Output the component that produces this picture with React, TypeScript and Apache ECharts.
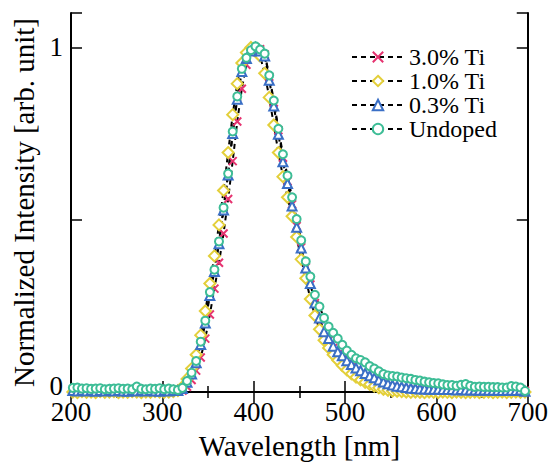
import React, { useEffect, useRef } from "react";
import * as echarts from "echarts";

// Wavelength grid [nm]
const wavelengths = [
  202, 207, 212, 217, 222, 227, 232, 237, 242, 247,
  252, 257, 262, 267, 272, 277, 282, 287, 292, 297,
  302, 307, 312, 317, 322, 327, 332, 337, 342, 347,
  352, 357, 362, 367, 372, 377, 382, 387, 392, 397,
  402, 407, 412, 417, 422, 427, 432, 437, 442, 447,
  452, 457, 462, 467, 472, 477, 482, 487, 492, 497,
  502, 507, 512, 517, 522, 527, 532, 537, 542, 547,
  552, 557, 562, 567, 572, 577, 582, 587, 592, 597,
  602, 607, 612, 617, 622, 627, 632, 637, 642, 647,
  652, 657, 662, 667, 672, 677, 682, 687, 692, 697,
];

const ti30 = [
  0.002, 0.001, 0.003, 0.002, 0.001, 0.002, 0.003, 0.001, 0.002, 0.002,
  0.001, 0.003, 0.002, 0.001, 0.002, 0.002, 0.001, 0.002, 0.003, 0.001,
  0.002, 0.001, 0.002, 0.002, 0.004, 0.015, 0.035, 0.062, 0.100, 0.155,
  0.225, 0.300, 0.375, 0.460, 0.560, 0.670, 0.785, 0.880, 0.950, 0.985,
  1.000, 0.995, 0.980, 0.915, 0.840, 0.760, 0.680, 0.612, 0.545, 0.482,
  0.420, 0.362, 0.312, 0.258, 0.212, 0.172, 0.150, 0.128, 0.110, 0.096,
  0.082, 0.071, 0.061, 0.052, 0.044, 0.037, 0.031, 0.026, 0.021, 0.017,
  0.014, 0.011, 0.009, 0.008, 0.007, 0.006, 0.005, 0.005, 0.004, 0.004,
  0.004, 0.003, 0.004, 0.003, 0.003, 0.002, 0.003, 0.003, 0.002, 0.003,
  0.002, 0.003, 0.002, 0.002, 0.003, 0.002, 0.002, 0.003, 0.002, 0.004,
];

const ti10 = [
  0.000, -0.002, 0.001, -0.001, 0.000, -0.002, 0.001, -0.001, 0.000, 0.001,
  -0.002, 0.000, -0.001, 0.001, 0.000, -0.002, 0.000, -0.001, 0.001, 0.000,
  -0.001, 0.000, 0.001, 0.004, 0.015, 0.038, 0.068, 0.108, 0.165, 0.235,
  0.315, 0.395, 0.485, 0.585, 0.695, 0.805, 0.895, 0.955, 0.985, 1.000,
  0.995, 0.975, 0.925, 0.855, 0.775, 0.695, 0.625, 0.565, 0.510, 0.450,
  0.385, 0.330, 0.270, 0.222, 0.182, 0.150, 0.128, 0.108, 0.092, 0.077,
  0.064, 0.053, 0.043, 0.035, 0.028, 0.022, 0.017, 0.012, 0.008, 0.005,
  0.003, 0.002, 0.001, 0.000, -0.001, 0.000, -0.001, -0.002, 0.000, -0.001,
  -0.002, 0.000, -0.001, -0.002, 0.000, -0.001, -0.002, -0.001, 0.000, -0.002,
  -0.001, 0.000, -0.002, -0.001, 0.000, -0.002, -0.001, 0.000, -0.001, 0.000,
];

const ti03 = [
  0.004, 0.003, 0.005, 0.003, 0.004, 0.002, 0.004, 0.003, 0.005, 0.003,
  0.004, 0.003, 0.002, 0.004, 0.003, 0.005, 0.003, 0.004, 0.003, 0.002,
  0.004, 0.003, 0.004, 0.004, 0.010, 0.028, 0.052, 0.085, 0.138, 0.200,
  0.280, 0.350, 0.430, 0.528, 0.630, 0.750, 0.850, 0.930, 0.968, 0.990,
  1.000, 0.990, 0.975, 0.905, 0.830, 0.748, 0.668, 0.605, 0.540, 0.478,
  0.418, 0.360, 0.315, 0.258, 0.215, 0.175, 0.155, 0.133, 0.117, 0.105,
  0.091, 0.080, 0.070, 0.062, 0.054, 0.047, 0.041, 0.035, 0.029, 0.024,
  0.020, 0.017, 0.015, 0.013, 0.011, 0.010, 0.009, 0.009, 0.008, 0.008,
  0.008, 0.007, 0.007, 0.007, 0.006, 0.007, 0.006, 0.006, 0.006, 0.005,
  0.006, 0.005, 0.005, 0.005, 0.004, 0.005, 0.005, 0.004, 0.006, 0.002,
];

const undoped = [
  0.012, 0.013, 0.010, 0.011, 0.009, 0.010, 0.011, 0.008, 0.009, 0.010,
  0.011, 0.009, 0.010, 0.008, 0.016, 0.009, 0.008, 0.010, 0.009, 0.011,
  0.008, 0.010, 0.008, 0.006, 0.012, 0.032, 0.056, 0.090, 0.146, 0.207,
  0.290, 0.355, 0.437, 0.535, 0.634, 0.756, 0.858, 0.938, 0.970, 0.992,
  1.003, 0.994, 0.982, 0.919, 0.846, 0.764, 0.690, 0.628, 0.565, 0.502,
  0.440, 0.379, 0.335, 0.282, 0.248, 0.215, 0.190, 0.172, 0.155, 0.137,
  0.120, 0.108, 0.098, 0.093, 0.086, 0.075, 0.068, 0.060, 0.052, 0.048,
  0.046, 0.045, 0.042, 0.040, 0.038, 0.035, 0.033, 0.030, 0.028, 0.026,
  0.025, 0.022, 0.020, 0.020, 0.018, 0.021, 0.023, 0.018, 0.015, 0.016,
  0.015, 0.015, 0.014, 0.014, 0.013, 0.013, 0.017, 0.016, 0.013, 0.003,
];

const seriesNames = ["3.0% Ti", "1.0% Ti", "0.3% Ti", "Undoped"];
const xTicks = [200, 300, 400, 500, 600, 700];
const yTickLabels = [0, 1];

const FONT = "'Liberation Serif'";

export default function App() {
  const ref = useRef<HTMLDivElement>(null);

  useEffect(() => {
    if (!ref.current) return;
    const chart = echarts.init(ref.current, undefined, { renderer: "svg" });

    const pair = (ys: number[]) => wavelengths.map((x, i) => [x, ys[i]]);
    const dashLine = { color: "#000", width: 2, type: [5, 4] as number[] };

    const styles = [
      { data: ti30, symbol: "path://M0,0L10,10M10,0L0,10", size: 8, color: "#e63370" },
      { data: ti10, symbol: "emptyDiamond", size: 11, color: "#e3cf3a" },
      { data: ti03, symbol: "emptyTriangle", size: 9, color: "#3a6fc6" },
      { data: undoped, symbol: "emptyCircle", size: 8, color: "#3dbd96" },
    ];

    const axisLine = { show: true, lineStyle: { color: "#000", width: 2 } };
    const tick = { show: true, inside: true, length: 11, lineStyle: { color: "#000", width: 1.5 } };
    const minor = { show: true, splitNumber: 2, length: 6, lineStyle: { color: "#000", width: 1.5 } };

    chart.setOption({
      animation: false,
      textStyle: { fontFamily: FONT },
      grid: { left: 71, right: 23, top: 13, bottom: 72, containLabel: false },
      legend: {
        orient: "vertical",
        left: 346,
        top: 40,
        itemWidth: 52,
        itemHeight: 13,
        itemGap: 0,
        data: seriesNames,
        textStyle: { fontFamily: FONT, fontSize: 24, color: "#000" },
      },
      xAxis: [
        {
          type: "value",
          position: "bottom",
          min: 200,
          max: 700,
          interval: 100,
          axisLine,
          axisTick: tick,
          minorTick: minor,
          splitLine: { show: false },
          axisLabel: {
            fontFamily: FONT,
            fontSize: 27,
            color: "#000",
            margin: 6,
            formatter: (v: number) => (xTicks.includes(v) ? String(v) : ""),
          },
          name: "Wavelength [nm]",
          nameLocation: "middle",
          nameGap: 39,
          nameTextStyle: { fontFamily: FONT, fontSize: 29, color: "#000" },
        },
        {
          type: "value",
          position: "top",
          min: 200,
          max: 700,
          interval: 100,
          axisLine,
          axisTick: tick,
          minorTick: minor,
          splitLine: { show: false },
          axisLabel: { show: false },
        },
      ],
      yAxis: [
        {
          type: "value",
          position: "left",
          min: 0,
          max: 1.1,
          interval: 0.5,
          axisLine,
          axisTick: tick,
          splitLine: { show: false },
          axisLabel: {
            fontFamily: FONT,
            fontSize: 27,
            color: "#000",
            margin: 8,
            formatter: (v: number) =>
              v === 0 ? "{z|0}" : yTickLabels.includes(v) ? String(v) : "",
            rich: {
              z: { fontFamily: FONT, fontSize: 27, color: "#000", padding: [0, 0, 13, 0] },
            },
          },
          name: "Normalized Intensity [arb. unit]",
          nameLocation: "middle",
          nameGap: 29,
          nameTextStyle: { fontFamily: FONT, fontSize: 29, color: "#000" },
        },
        {
          type: "value",
          position: "right",
          min: 0,
          max: 1.1,
          interval: 0.5,
          axisLine,
          axisTick: tick,
          splitLine: { show: false },
          axisLabel: { show: false },
        },
      ],
      series: styles.map((s, i) => ({
        name: seriesNames[i],
        type: "line",
        xAxisIndex: 0,
        yAxisIndex: 0,
        clip: false,
        data: pair(s.data),
        symbol: s.symbol,
        symbolSize: s.size,
        showAllSymbol: true,
        lineStyle: dashLine,
        itemStyle: { color: s.color, borderColor: s.color, borderWidth: 2 },
        emphasis: { disabled: true },
      })),
    });

    return () => chart.dispose();
  }, []);

  return (
    <div
      ref={ref}
      style={{ position: "absolute", left: 0, top: 0, width: 551, height: 465, background: "#fff" }}
    />
  );
}
